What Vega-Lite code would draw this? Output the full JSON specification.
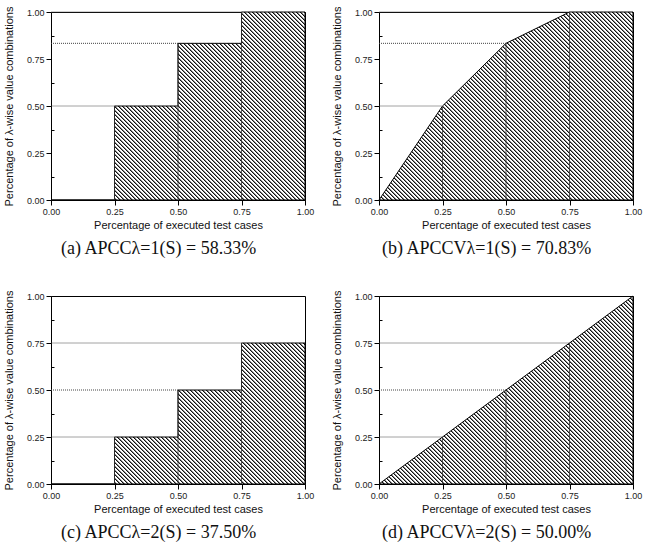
{
  "$schema": "https://vega.github.io/schema/vega-lite/v6.json",
  "background": "white",
  "padding": {"left": 2, "top": 5, "right": 0, "bottom": 0},
  "columns": 2,
  "spacing": {"row": 30, "column": 15},
  "concat": [
    {
      "width": 254, "height": 188,
      "data": {"values": [{"x": 0, "y": 0}, {"x": 0.25, "y": 0.5}, {"x": 0.5, "y": 0.8333}, {"x": 0.75, "y": 1}, {"x": 1, "y": 1}]},
      "title": {"text": "(a) APCCλ=1(S) = 58.33%"},
      "layer": [
        {"mark": {"type": "area", "interpolate": "step-after", "stroke": "black", "strokeWidth": 1},
         "encoding": {
           "x": {"field": "x", "type": "quantitative", "scale": {"domain": [0, 1]}, "axis": {"values": [0, 0.25, 0.5, 0.75, 1], "format": ".2f", "title": "Percentage of executed test cases", "titlePadding": 3}},
           "y": {"field": "y", "type": "quantitative", "scale": {"domain": [0, 1]}, "axis": {"values": [0, 0.25, 0.5, 0.75, 1], "format": ".2f", "title": "Percentage of λ-wise value combinations", "titlePadding": 12}}}},
        {"transform": [{"filter": "datum.x < 1"}], "mark": {"type": "rule", "color": "#444", "strokeDash": [1, 1], "strokeWidth": 1},
         "encoding": {"y": {"field": "y", "type": "quantitative", "axis": null}, "x": {"field": "x", "type": "quantitative"}, "x2": {"datum": 0}}},
        {"transform": [{"filter": "datum.x < 1"}], "mark": {"type": "rule", "color": "#333", "strokeWidth": 0.8},
         "encoding": {"x": {"field": "x", "type": "quantitative"}, "y": {"field": "y", "type": "quantitative", "axis": null}, "y2": {"datum": 0}}},
        {"mark": {"type": "rule", "opacity": 0},
         "encoding": {"y": {"field": "y", "type": "quantitative", "axis": {"orient": "left", "values": [0.125, 0.375, 0.625, 0.875], "labels": false, "domain": false, "tickSize": -3, "title": null}}}}
      ],
      "resolve": {"axis": {"y": "independent"}}
    },
    {
      "width": 254, "height": 188,
      "data": {"values": [{"x": 0, "y": 0}, {"x": 0.25, "y": 0.5}, {"x": 0.5, "y": 0.8333}, {"x": 0.75, "y": 1}, {"x": 1, "y": 1}]},
      "title": {"text": "(b) APCCVλ=1(S) = 70.83%"},
      "layer": [
        {"mark": {"type": "area", "interpolate": "linear", "stroke": "black", "strokeWidth": 1},
         "encoding": {
           "x": {"field": "x", "type": "quantitative", "scale": {"domain": [0, 1]}, "axis": {"values": [0, 0.25, 0.5, 0.75, 1], "format": ".2f", "title": "Percentage of executed test cases", "titlePadding": 3}},
           "y": {"field": "y", "type": "quantitative", "scale": {"domain": [0, 1]}, "axis": {"values": [0, 0.25, 0.5, 0.75, 1], "format": ".2f", "title": "Percentage of λ-wise value combinations", "titlePadding": 12}}}},
        {"transform": [{"filter": "datum.x < 1"}], "mark": {"type": "rule", "color": "#444", "strokeDash": [1, 1], "strokeWidth": 1},
         "encoding": {"y": {"field": "y", "type": "quantitative", "axis": null}, "x": {"field": "x", "type": "quantitative"}, "x2": {"datum": 0}}},
        {"transform": [{"filter": "datum.x < 1"}], "mark": {"type": "rule", "color": "#333", "strokeWidth": 0.8},
         "encoding": {"x": {"field": "x", "type": "quantitative"}, "y": {"field": "y", "type": "quantitative", "axis": null}, "y2": {"datum": 0}}},
        {"mark": {"type": "rule", "opacity": 0},
         "encoding": {"y": {"field": "y", "type": "quantitative", "axis": {"orient": "left", "values": [0.125, 0.375, 0.625, 0.875], "labels": false, "domain": false, "tickSize": -3, "title": null}}}}
      ],
      "resolve": {"axis": {"y": "independent"}}
    },
    {
      "width": 254, "height": 188,
      "data": {"values": [{"x": 0, "y": 0}, {"x": 0.25, "y": 0.25}, {"x": 0.5, "y": 0.5}, {"x": 0.75, "y": 0.75}, {"x": 1, "y": 0.75}]},
      "title": {"text": "(c) APCCλ=2(S) = 37.50%"},
      "layer": [
        {"mark": {"type": "area", "interpolate": "step-after", "stroke": "black", "strokeWidth": 1,
           "fill": {"gradient": "linear", "x1": 0, "y1": 1, "x2": 1.50479, "y2": 0.16466, "stops": [
{"offset":0,"color":"#fff"},{"offset":0.002,"color":"#111"},{"offset":0.003,"color":"#111"},{"offset":0.005,"color":"#fff"},
{"offset":0.008,"color":"#fff"},{"offset":0.01,"color":"#111"},{"offset":0.011,"color":"#111"},{"offset":0.013,"color":"#fff"},
{"offset":0.016,"color":"#fff"},{"offset":0.018,"color":"#111"},{"offset":0.019,"color":"#111"},{"offset":0.021,"color":"#fff"},
{"offset":0.024,"color":"#fff"},{"offset":0.026,"color":"#111"},{"offset":0.027,"color":"#111"},{"offset":0.029,"color":"#fff"},
{"offset":0.032,"color":"#fff"},{"offset":0.034,"color":"#111"},{"offset":0.035,"color":"#111"},{"offset":0.037,"color":"#fff"},
{"offset":0.04,"color":"#fff"},{"offset":0.042,"color":"#111"},{"offset":0.043,"color":"#111"},{"offset":0.045,"color":"#fff"},
{"offset":0.048,"color":"#fff"},{"offset":0.05,"color":"#111"},{"offset":0.051,"color":"#111"},{"offset":0.053,"color":"#fff"},
{"offset":0.056,"color":"#fff"},{"offset":0.058,"color":"#111"},{"offset":0.059,"color":"#111"},{"offset":0.061,"color":"#fff"},
{"offset":0.064,"color":"#fff"},{"offset":0.066,"color":"#111"},{"offset":0.067,"color":"#111"},{"offset":0.069,"color":"#fff"},
{"offset":0.072,"color":"#fff"},{"offset":0.074,"color":"#111"},{"offset":0.075,"color":"#111"},{"offset":0.077,"color":"#fff"},
{"offset":0.08,"color":"#fff"},{"offset":0.082,"color":"#111"},{"offset":0.083,"color":"#111"},{"offset":0.085,"color":"#fff"},
{"offset":0.088,"color":"#fff"},{"offset":0.09,"color":"#111"},{"offset":0.091,"color":"#111"},{"offset":0.093,"color":"#fff"},
{"offset":0.096,"color":"#fff"},{"offset":0.098,"color":"#111"},{"offset":0.099,"color":"#111"},{"offset":0.101,"color":"#fff"},
{"offset":0.104,"color":"#fff"},{"offset":0.106,"color":"#111"},{"offset":0.107,"color":"#111"},{"offset":0.109,"color":"#fff"},
{"offset":0.112,"color":"#fff"},{"offset":0.114,"color":"#111"},{"offset":0.115,"color":"#111"},{"offset":0.117,"color":"#fff"},
{"offset":0.12,"color":"#fff"},{"offset":0.122,"color":"#111"},{"offset":0.123,"color":"#111"},{"offset":0.125,"color":"#fff"},
{"offset":0.128,"color":"#fff"},{"offset":0.13,"color":"#111"},{"offset":0.131,"color":"#111"},{"offset":0.133,"color":"#fff"},
{"offset":0.136,"color":"#fff"},{"offset":0.138,"color":"#111"},{"offset":0.139,"color":"#111"},{"offset":0.141,"color":"#fff"},
{"offset":0.144,"color":"#fff"},{"offset":0.146,"color":"#111"},{"offset":0.147,"color":"#111"},{"offset":0.149,"color":"#fff"},
{"offset":0.152,"color":"#fff"},{"offset":0.154,"color":"#111"},{"offset":0.155,"color":"#111"},{"offset":0.157,"color":"#fff"},
{"offset":0.16,"color":"#fff"},{"offset":0.162,"color":"#111"},{"offset":0.163,"color":"#111"},{"offset":0.165,"color":"#fff"},
{"offset":0.168,"color":"#fff"},{"offset":0.17,"color":"#111"},{"offset":0.171,"color":"#111"},{"offset":0.173,"color":"#fff"},
{"offset":0.176,"color":"#fff"},{"offset":0.178,"color":"#111"},{"offset":0.179,"color":"#111"},{"offset":0.181,"color":"#fff"},
{"offset":0.184,"color":"#fff"},{"offset":0.186,"color":"#111"},{"offset":0.187,"color":"#111"},{"offset":0.189,"color":"#fff"},
{"offset":0.192,"color":"#fff"},{"offset":0.194,"color":"#111"},{"offset":0.195,"color":"#111"},{"offset":0.197,"color":"#fff"},
{"offset":0.2,"color":"#fff"},{"offset":0.202,"color":"#111"},{"offset":0.203,"color":"#111"},{"offset":0.205,"color":"#fff"},
{"offset":0.208,"color":"#fff"},{"offset":0.21,"color":"#111"},{"offset":0.211,"color":"#111"},{"offset":0.213,"color":"#fff"},
{"offset":0.216,"color":"#fff"},{"offset":0.218,"color":"#111"},{"offset":0.219,"color":"#111"},{"offset":0.221,"color":"#fff"},
{"offset":0.224,"color":"#fff"},{"offset":0.226,"color":"#111"},{"offset":0.227,"color":"#111"},{"offset":0.229,"color":"#fff"},
{"offset":0.232,"color":"#fff"},{"offset":0.234,"color":"#111"},{"offset":0.235,"color":"#111"},{"offset":0.237,"color":"#fff"},
{"offset":0.24,"color":"#fff"},{"offset":0.242,"color":"#111"},{"offset":0.243,"color":"#111"},{"offset":0.245,"color":"#fff"},
{"offset":0.248,"color":"#fff"},{"offset":0.25,"color":"#111"},{"offset":0.251,"color":"#111"},{"offset":0.253,"color":"#fff"},
{"offset":0.256,"color":"#fff"},{"offset":0.258,"color":"#111"},{"offset":0.259,"color":"#111"},{"offset":0.261,"color":"#fff"},
{"offset":0.264,"color":"#fff"},{"offset":0.266,"color":"#111"},{"offset":0.267,"color":"#111"},{"offset":0.269,"color":"#fff"},
{"offset":0.272,"color":"#fff"},{"offset":0.274,"color":"#111"},{"offset":0.275,"color":"#111"},{"offset":0.277,"color":"#fff"},
{"offset":0.28,"color":"#fff"},{"offset":0.282,"color":"#111"},{"offset":0.283,"color":"#111"},{"offset":0.285,"color":"#fff"},
{"offset":0.288,"color":"#fff"},{"offset":0.29,"color":"#111"},{"offset":0.291,"color":"#111"},{"offset":0.293,"color":"#fff"},
{"offset":0.296,"color":"#fff"},{"offset":0.298,"color":"#111"},{"offset":0.299,"color":"#111"},{"offset":0.301,"color":"#fff"},
{"offset":0.304,"color":"#fff"},{"offset":0.306,"color":"#111"},{"offset":0.307,"color":"#111"},{"offset":0.309,"color":"#fff"},
{"offset":0.312,"color":"#fff"},{"offset":0.314,"color":"#111"},{"offset":0.315,"color":"#111"},{"offset":0.317,"color":"#fff"},
{"offset":0.32,"color":"#fff"},{"offset":0.322,"color":"#111"},{"offset":0.323,"color":"#111"},{"offset":0.325,"color":"#fff"},
{"offset":0.328,"color":"#fff"},{"offset":0.33,"color":"#111"},{"offset":0.331,"color":"#111"},{"offset":0.333,"color":"#fff"},
{"offset":0.336,"color":"#fff"},{"offset":0.338,"color":"#111"},{"offset":0.339,"color":"#111"},{"offset":0.341,"color":"#fff"},
{"offset":0.344,"color":"#fff"},{"offset":0.346,"color":"#111"},{"offset":0.347,"color":"#111"},{"offset":0.349,"color":"#fff"},
{"offset":0.352,"color":"#fff"},{"offset":0.354,"color":"#111"},{"offset":0.355,"color":"#111"},{"offset":0.357,"color":"#fff"},
{"offset":0.36,"color":"#fff"},{"offset":0.362,"color":"#111"},{"offset":0.363,"color":"#111"},{"offset":0.365,"color":"#fff"},
{"offset":0.368,"color":"#fff"},{"offset":0.37,"color":"#111"},{"offset":0.371,"color":"#111"},{"offset":0.373,"color":"#fff"},
{"offset":0.376,"color":"#fff"},{"offset":0.378,"color":"#111"},{"offset":0.379,"color":"#111"},{"offset":0.381,"color":"#fff"},
{"offset":0.384,"color":"#fff"},{"offset":0.386,"color":"#111"},{"offset":0.387,"color":"#111"},{"offset":0.389,"color":"#fff"},
{"offset":0.392,"color":"#fff"},{"offset":0.394,"color":"#111"},{"offset":0.395,"color":"#111"},{"offset":0.397,"color":"#fff"},
{"offset":0.4,"color":"#fff"},{"offset":0.402,"color":"#111"},{"offset":0.403,"color":"#111"},{"offset":0.405,"color":"#fff"},
{"offset":0.408,"color":"#fff"},{"offset":0.41,"color":"#111"},{"offset":0.411,"color":"#111"},{"offset":0.413,"color":"#fff"},
{"offset":0.416,"color":"#fff"},{"offset":0.418,"color":"#111"},{"offset":0.419,"color":"#111"},{"offset":0.421,"color":"#fff"},
{"offset":0.424,"color":"#fff"},{"offset":0.426,"color":"#111"},{"offset":0.427,"color":"#111"},{"offset":0.429,"color":"#fff"},
{"offset":0.432,"color":"#fff"},{"offset":0.434,"color":"#111"},{"offset":0.435,"color":"#111"},{"offset":0.437,"color":"#fff"},
{"offset":0.44,"color":"#fff"},{"offset":0.442,"color":"#111"},{"offset":0.443,"color":"#111"},{"offset":0.445,"color":"#fff"},
{"offset":0.448,"color":"#fff"},{"offset":0.45,"color":"#111"},{"offset":0.451,"color":"#111"},{"offset":0.453,"color":"#fff"},
{"offset":0.456,"color":"#fff"},{"offset":0.458,"color":"#111"},{"offset":0.459,"color":"#111"},{"offset":0.461,"color":"#fff"},
{"offset":0.464,"color":"#fff"},{"offset":0.466,"color":"#111"},{"offset":0.467,"color":"#111"},{"offset":0.469,"color":"#fff"},
{"offset":0.472,"color":"#fff"},{"offset":0.474,"color":"#111"},{"offset":0.475,"color":"#111"},{"offset":0.477,"color":"#fff"},
{"offset":0.48,"color":"#fff"},{"offset":0.482,"color":"#111"},{"offset":0.483,"color":"#111"},{"offset":0.485,"color":"#fff"},
{"offset":0.488,"color":"#fff"},{"offset":0.49,"color":"#111"},{"offset":0.491,"color":"#111"},{"offset":0.493,"color":"#fff"},
{"offset":0.496,"color":"#fff"},{"offset":0.498,"color":"#111"},{"offset":0.499,"color":"#111"},{"offset":0.501,"color":"#fff"},
{"offset":0.504,"color":"#fff"},{"offset":0.506,"color":"#111"},{"offset":0.507,"color":"#111"},{"offset":0.509,"color":"#fff"},
{"offset":0.512,"color":"#fff"},{"offset":0.514,"color":"#111"},{"offset":0.515,"color":"#111"},{"offset":0.517,"color":"#fff"},
{"offset":0.52,"color":"#fff"},{"offset":0.522,"color":"#111"},{"offset":0.523,"color":"#111"},{"offset":0.525,"color":"#fff"},
{"offset":0.528,"color":"#fff"},{"offset":0.53,"color":"#111"},{"offset":0.531,"color":"#111"},{"offset":0.533,"color":"#fff"},
{"offset":0.536,"color":"#fff"},{"offset":0.538,"color":"#111"},{"offset":0.539,"color":"#111"},{"offset":0.541,"color":"#fff"},
{"offset":0.544,"color":"#fff"},{"offset":0.546,"color":"#111"},{"offset":0.547,"color":"#111"},{"offset":0.549,"color":"#fff"},
{"offset":0.552,"color":"#fff"},{"offset":0.554,"color":"#111"},{"offset":0.555,"color":"#111"},{"offset":0.557,"color":"#fff"},
{"offset":0.56,"color":"#fff"},{"offset":0.562,"color":"#111"},{"offset":0.563,"color":"#111"},{"offset":0.565,"color":"#fff"},
{"offset":0.568,"color":"#fff"},{"offset":0.57,"color":"#111"},{"offset":0.571,"color":"#111"},{"offset":0.573,"color":"#fff"},
{"offset":0.576,"color":"#fff"},{"offset":0.578,"color":"#111"},{"offset":0.579,"color":"#111"},{"offset":0.581,"color":"#fff"},
{"offset":0.584,"color":"#fff"},{"offset":0.586,"color":"#111"},{"offset":0.587,"color":"#111"},{"offset":0.589,"color":"#fff"},
{"offset":0.592,"color":"#fff"},{"offset":0.594,"color":"#111"},{"offset":0.595,"color":"#111"},{"offset":0.597,"color":"#fff"},
{"offset":0.6,"color":"#fff"},{"offset":0.602,"color":"#111"},{"offset":0.603,"color":"#111"},{"offset":0.605,"color":"#fff"},
{"offset":0.608,"color":"#fff"},{"offset":0.61,"color":"#111"},{"offset":0.611,"color":"#111"},{"offset":0.613,"color":"#fff"},
{"offset":0.616,"color":"#fff"},{"offset":0.618,"color":"#111"},{"offset":0.619,"color":"#111"},{"offset":0.621,"color":"#fff"},
{"offset":0.624,"color":"#fff"},{"offset":0.626,"color":"#111"},{"offset":0.627,"color":"#111"},{"offset":0.629,"color":"#fff"},
{"offset":0.632,"color":"#fff"},{"offset":0.634,"color":"#111"},{"offset":0.635,"color":"#111"},{"offset":0.637,"color":"#fff"},
{"offset":0.64,"color":"#fff"},{"offset":0.642,"color":"#111"},{"offset":0.643,"color":"#111"},{"offset":0.645,"color":"#fff"},
{"offset":0.648,"color":"#fff"},{"offset":0.65,"color":"#111"},{"offset":0.651,"color":"#111"},{"offset":0.653,"color":"#fff"},
{"offset":0.656,"color":"#fff"},{"offset":0.658,"color":"#111"},{"offset":0.659,"color":"#111"},{"offset":0.661,"color":"#fff"},
{"offset":0.664,"color":"#fff"},{"offset":0.666,"color":"#111"},{"offset":0.667,"color":"#111"},{"offset":0.669,"color":"#fff"},
{"offset":0.672,"color":"#fff"},{"offset":0.674,"color":"#111"},{"offset":0.675,"color":"#111"},{"offset":0.677,"color":"#fff"},
{"offset":0.68,"color":"#fff"},{"offset":0.682,"color":"#111"},{"offset":0.683,"color":"#111"},{"offset":0.685,"color":"#fff"},
{"offset":0.688,"color":"#fff"},{"offset":0.69,"color":"#111"},{"offset":0.691,"color":"#111"},{"offset":0.693,"color":"#fff"},
{"offset":0.696,"color":"#fff"},{"offset":0.698,"color":"#111"},{"offset":0.699,"color":"#111"},{"offset":0.701,"color":"#fff"},
{"offset":0.704,"color":"#fff"},{"offset":0.706,"color":"#111"},{"offset":0.707,"color":"#111"},{"offset":0.709,"color":"#fff"},
{"offset":0.712,"color":"#fff"},{"offset":0.714,"color":"#111"},{"offset":0.715,"color":"#111"},{"offset":0.717,"color":"#fff"},
{"offset":0.72,"color":"#fff"},{"offset":0.722,"color":"#111"},{"offset":0.723,"color":"#111"},{"offset":0.725,"color":"#fff"},
{"offset":0.728,"color":"#fff"},{"offset":0.73,"color":"#111"},{"offset":0.731,"color":"#111"},{"offset":0.733,"color":"#fff"},
{"offset":0.736,"color":"#fff"},{"offset":0.738,"color":"#111"},{"offset":0.739,"color":"#111"},{"offset":0.741,"color":"#fff"},
{"offset":0.744,"color":"#fff"},{"offset":0.746,"color":"#111"},{"offset":0.747,"color":"#111"},{"offset":0.749,"color":"#fff"},
{"offset":0.752,"color":"#fff"},{"offset":0.754,"color":"#111"},{"offset":0.755,"color":"#111"},{"offset":0.757,"color":"#fff"},
{"offset":0.76,"color":"#fff"},{"offset":0.762,"color":"#111"},{"offset":0.763,"color":"#111"},{"offset":0.765,"color":"#fff"},
{"offset":0.768,"color":"#fff"},{"offset":0.77,"color":"#111"},{"offset":0.771,"color":"#111"},{"offset":0.773,"color":"#fff"},
{"offset":0.776,"color":"#fff"},{"offset":0.778,"color":"#111"},{"offset":0.779,"color":"#111"},{"offset":0.781,"color":"#fff"},
{"offset":0.784,"color":"#fff"},{"offset":0.786,"color":"#111"},{"offset":0.787,"color":"#111"},{"offset":0.789,"color":"#fff"},
{"offset":0.792,"color":"#fff"},{"offset":0.794,"color":"#111"},{"offset":0.795,"color":"#111"},{"offset":0.797,"color":"#fff"},
{"offset":1,"color":"#fff"}]}},
         "encoding": {
           "x": {"field": "x", "type": "quantitative", "scale": {"domain": [0, 1]}, "axis": {"values": [0, 0.25, 0.5, 0.75, 1], "format": ".2f", "title": "Percentage of executed test cases", "titlePadding": 3}},
           "y": {"field": "y", "type": "quantitative", "scale": {"domain": [0, 1]}, "axis": {"values": [0, 0.25, 0.5, 0.75, 1], "format": ".2f", "title": "Percentage of λ-wise value combinations", "titlePadding": 12}}}},
        {"transform": [{"filter": "datum.x < 1"}], "mark": {"type": "rule", "color": "#444", "strokeDash": [1, 1], "strokeWidth": 1},
         "encoding": {"y": {"field": "y", "type": "quantitative", "axis": null}, "x": {"field": "x", "type": "quantitative"}, "x2": {"datum": 0}}},
        {"transform": [{"filter": "datum.x < 1"}], "mark": {"type": "rule", "color": "#333", "strokeWidth": 0.8},
         "encoding": {"x": {"field": "x", "type": "quantitative"}, "y": {"field": "y", "type": "quantitative", "axis": null}, "y2": {"datum": 0}}},
        {"mark": {"type": "rule", "opacity": 0},
         "encoding": {"y": {"field": "y", "type": "quantitative", "axis": {"orient": "left", "values": [0.125, 0.375, 0.625, 0.875], "labels": false, "domain": false, "tickSize": -3, "title": null}}}}
      ],
      "resolve": {"axis": {"y": "independent"}}
    },
    {
      "width": 254, "height": 188,
      "data": {"values": [{"x": 0, "y": 0}, {"x": 0.25, "y": 0.25}, {"x": 0.5, "y": 0.5}, {"x": 0.75, "y": 0.75}, {"x": 1, "y": 1}]},
      "title": {"text": "(d) APCCVλ=2(S) = 50.00%"},
      "layer": [
        {"mark": {"type": "area", "interpolate": "linear", "stroke": "black", "strokeWidth": 1},
         "encoding": {
           "x": {"field": "x", "type": "quantitative", "scale": {"domain": [0, 1]}, "axis": {"values": [0, 0.25, 0.5, 0.75, 1], "format": ".2f", "title": "Percentage of executed test cases", "titlePadding": 3}},
           "y": {"field": "y", "type": "quantitative", "scale": {"domain": [0, 1]}, "axis": {"values": [0, 0.25, 0.5, 0.75, 1], "format": ".2f", "title": "Percentage of λ-wise value combinations", "titlePadding": 12}}}},
        {"transform": [{"filter": "datum.x < 1"}], "mark": {"type": "rule", "color": "#444", "strokeDash": [1, 1], "strokeWidth": 1},
         "encoding": {"y": {"field": "y", "type": "quantitative", "axis": null}, "x": {"field": "x", "type": "quantitative"}, "x2": {"datum": 0}}},
        {"transform": [{"filter": "datum.x < 1"}], "mark": {"type": "rule", "color": "#333", "strokeWidth": 0.8},
         "encoding": {"x": {"field": "x", "type": "quantitative"}, "y": {"field": "y", "type": "quantitative", "axis": null}, "y2": {"datum": 0}}},
        {"mark": {"type": "rule", "opacity": 0},
         "encoding": {"y": {"field": "y", "type": "quantitative", "axis": {"orient": "left", "values": [0.125, 0.375, 0.625, 0.875], "labels": false, "domain": false, "tickSize": -3, "title": null}}}}
      ],
      "resolve": {"axis": {"y": "independent"}}
    }
  ],
  "config": {
    "font": "Liberation Sans",
    "view": {"stroke": "black", "strokeWidth": 1},
    "axis": {"labelFont": "Liberation Sans", "labelFontSize": 9, "labelColor": "#222", "labelFlush": false, "titleFont": "Liberation Sans", "titleFontSize": 11, "titleFontWeight": "normal", "titleColor": "#111", "domainColor": "black", "tickColor": "black", "tickSize": 5, "labelPadding": 2, "grid": false},
    "title": {"orient": "bottom", "anchor": "middle", "frame": "bounds", "font": "Liberation Serif", "fontSize": 18, "fontWeight": "normal", "color": "#111", "offset": 10},
    "area": {"fill": {"gradient": "linear", "x1": 0, "y1": 1, "x2": 1.27177, "y2": 0.05869, "stops": [
{"offset":0,"color":"#fff"},{"offset":0.002,"color":"#111"},{"offset":0.003,"color":"#111"},{"offset":0.005,"color":"#fff"},
{"offset":0.008,"color":"#fff"},{"offset":0.01,"color":"#111"},{"offset":0.011,"color":"#111"},{"offset":0.013,"color":"#fff"},
{"offset":0.016,"color":"#fff"},{"offset":0.018,"color":"#111"},{"offset":0.019,"color":"#111"},{"offset":0.021,"color":"#fff"},
{"offset":0.024,"color":"#fff"},{"offset":0.026,"color":"#111"},{"offset":0.027,"color":"#111"},{"offset":0.029,"color":"#fff"},
{"offset":0.032,"color":"#fff"},{"offset":0.034,"color":"#111"},{"offset":0.035,"color":"#111"},{"offset":0.037,"color":"#fff"},
{"offset":0.04,"color":"#fff"},{"offset":0.042,"color":"#111"},{"offset":0.043,"color":"#111"},{"offset":0.045,"color":"#fff"},
{"offset":0.048,"color":"#fff"},{"offset":0.05,"color":"#111"},{"offset":0.051,"color":"#111"},{"offset":0.053,"color":"#fff"},
{"offset":0.056,"color":"#fff"},{"offset":0.058,"color":"#111"},{"offset":0.059,"color":"#111"},{"offset":0.061,"color":"#fff"},
{"offset":0.064,"color":"#fff"},{"offset":0.066,"color":"#111"},{"offset":0.067,"color":"#111"},{"offset":0.069,"color":"#fff"},
{"offset":0.072,"color":"#fff"},{"offset":0.074,"color":"#111"},{"offset":0.075,"color":"#111"},{"offset":0.077,"color":"#fff"},
{"offset":0.08,"color":"#fff"},{"offset":0.082,"color":"#111"},{"offset":0.083,"color":"#111"},{"offset":0.085,"color":"#fff"},
{"offset":0.088,"color":"#fff"},{"offset":0.09,"color":"#111"},{"offset":0.091,"color":"#111"},{"offset":0.093,"color":"#fff"},
{"offset":0.096,"color":"#fff"},{"offset":0.098,"color":"#111"},{"offset":0.099,"color":"#111"},{"offset":0.101,"color":"#fff"},
{"offset":0.104,"color":"#fff"},{"offset":0.106,"color":"#111"},{"offset":0.107,"color":"#111"},{"offset":0.109,"color":"#fff"},
{"offset":0.112,"color":"#fff"},{"offset":0.114,"color":"#111"},{"offset":0.115,"color":"#111"},{"offset":0.117,"color":"#fff"},
{"offset":0.12,"color":"#fff"},{"offset":0.122,"color":"#111"},{"offset":0.123,"color":"#111"},{"offset":0.125,"color":"#fff"},
{"offset":0.128,"color":"#fff"},{"offset":0.13,"color":"#111"},{"offset":0.131,"color":"#111"},{"offset":0.133,"color":"#fff"},
{"offset":0.136,"color":"#fff"},{"offset":0.138,"color":"#111"},{"offset":0.139,"color":"#111"},{"offset":0.141,"color":"#fff"},
{"offset":0.144,"color":"#fff"},{"offset":0.146,"color":"#111"},{"offset":0.147,"color":"#111"},{"offset":0.149,"color":"#fff"},
{"offset":0.152,"color":"#fff"},{"offset":0.154,"color":"#111"},{"offset":0.155,"color":"#111"},{"offset":0.157,"color":"#fff"},
{"offset":0.16,"color":"#fff"},{"offset":0.162,"color":"#111"},{"offset":0.163,"color":"#111"},{"offset":0.165,"color":"#fff"},
{"offset":0.168,"color":"#fff"},{"offset":0.17,"color":"#111"},{"offset":0.171,"color":"#111"},{"offset":0.173,"color":"#fff"},
{"offset":0.176,"color":"#fff"},{"offset":0.178,"color":"#111"},{"offset":0.179,"color":"#111"},{"offset":0.181,"color":"#fff"},
{"offset":0.184,"color":"#fff"},{"offset":0.186,"color":"#111"},{"offset":0.187,"color":"#111"},{"offset":0.189,"color":"#fff"},
{"offset":0.192,"color":"#fff"},{"offset":0.194,"color":"#111"},{"offset":0.195,"color":"#111"},{"offset":0.197,"color":"#fff"},
{"offset":0.2,"color":"#fff"},{"offset":0.202,"color":"#111"},{"offset":0.203,"color":"#111"},{"offset":0.205,"color":"#fff"},
{"offset":0.208,"color":"#fff"},{"offset":0.21,"color":"#111"},{"offset":0.211,"color":"#111"},{"offset":0.213,"color":"#fff"},
{"offset":0.216,"color":"#fff"},{"offset":0.218,"color":"#111"},{"offset":0.219,"color":"#111"},{"offset":0.221,"color":"#fff"},
{"offset":0.224,"color":"#fff"},{"offset":0.226,"color":"#111"},{"offset":0.227,"color":"#111"},{"offset":0.229,"color":"#fff"},
{"offset":0.232,"color":"#fff"},{"offset":0.234,"color":"#111"},{"offset":0.235,"color":"#111"},{"offset":0.237,"color":"#fff"},
{"offset":0.24,"color":"#fff"},{"offset":0.242,"color":"#111"},{"offset":0.243,"color":"#111"},{"offset":0.245,"color":"#fff"},
{"offset":0.248,"color":"#fff"},{"offset":0.25,"color":"#111"},{"offset":0.251,"color":"#111"},{"offset":0.253,"color":"#fff"},
{"offset":0.256,"color":"#fff"},{"offset":0.258,"color":"#111"},{"offset":0.259,"color":"#111"},{"offset":0.261,"color":"#fff"},
{"offset":0.264,"color":"#fff"},{"offset":0.266,"color":"#111"},{"offset":0.267,"color":"#111"},{"offset":0.269,"color":"#fff"},
{"offset":0.272,"color":"#fff"},{"offset":0.274,"color":"#111"},{"offset":0.275,"color":"#111"},{"offset":0.277,"color":"#fff"},
{"offset":0.28,"color":"#fff"},{"offset":0.282,"color":"#111"},{"offset":0.283,"color":"#111"},{"offset":0.285,"color":"#fff"},
{"offset":0.288,"color":"#fff"},{"offset":0.29,"color":"#111"},{"offset":0.291,"color":"#111"},{"offset":0.293,"color":"#fff"},
{"offset":0.296,"color":"#fff"},{"offset":0.298,"color":"#111"},{"offset":0.299,"color":"#111"},{"offset":0.301,"color":"#fff"},
{"offset":0.304,"color":"#fff"},{"offset":0.306,"color":"#111"},{"offset":0.307,"color":"#111"},{"offset":0.309,"color":"#fff"},
{"offset":0.312,"color":"#fff"},{"offset":0.314,"color":"#111"},{"offset":0.315,"color":"#111"},{"offset":0.317,"color":"#fff"},
{"offset":0.32,"color":"#fff"},{"offset":0.322,"color":"#111"},{"offset":0.323,"color":"#111"},{"offset":0.325,"color":"#fff"},
{"offset":0.328,"color":"#fff"},{"offset":0.33,"color":"#111"},{"offset":0.331,"color":"#111"},{"offset":0.333,"color":"#fff"},
{"offset":0.336,"color":"#fff"},{"offset":0.338,"color":"#111"},{"offset":0.339,"color":"#111"},{"offset":0.341,"color":"#fff"},
{"offset":0.344,"color":"#fff"},{"offset":0.346,"color":"#111"},{"offset":0.347,"color":"#111"},{"offset":0.349,"color":"#fff"},
{"offset":0.352,"color":"#fff"},{"offset":0.354,"color":"#111"},{"offset":0.355,"color":"#111"},{"offset":0.357,"color":"#fff"},
{"offset":0.36,"color":"#fff"},{"offset":0.362,"color":"#111"},{"offset":0.363,"color":"#111"},{"offset":0.365,"color":"#fff"},
{"offset":0.368,"color":"#fff"},{"offset":0.37,"color":"#111"},{"offset":0.371,"color":"#111"},{"offset":0.373,"color":"#fff"},
{"offset":0.376,"color":"#fff"},{"offset":0.378,"color":"#111"},{"offset":0.379,"color":"#111"},{"offset":0.381,"color":"#fff"},
{"offset":0.384,"color":"#fff"},{"offset":0.386,"color":"#111"},{"offset":0.387,"color":"#111"},{"offset":0.389,"color":"#fff"},
{"offset":0.392,"color":"#fff"},{"offset":0.394,"color":"#111"},{"offset":0.395,"color":"#111"},{"offset":0.397,"color":"#fff"},
{"offset":0.4,"color":"#fff"},{"offset":0.402,"color":"#111"},{"offset":0.403,"color":"#111"},{"offset":0.405,"color":"#fff"},
{"offset":0.408,"color":"#fff"},{"offset":0.41,"color":"#111"},{"offset":0.411,"color":"#111"},{"offset":0.413,"color":"#fff"},
{"offset":0.416,"color":"#fff"},{"offset":0.418,"color":"#111"},{"offset":0.419,"color":"#111"},{"offset":0.421,"color":"#fff"},
{"offset":0.424,"color":"#fff"},{"offset":0.426,"color":"#111"},{"offset":0.427,"color":"#111"},{"offset":0.429,"color":"#fff"},
{"offset":0.432,"color":"#fff"},{"offset":0.434,"color":"#111"},{"offset":0.435,"color":"#111"},{"offset":0.437,"color":"#fff"},
{"offset":0.44,"color":"#fff"},{"offset":0.442,"color":"#111"},{"offset":0.443,"color":"#111"},{"offset":0.445,"color":"#fff"},
{"offset":0.448,"color":"#fff"},{"offset":0.45,"color":"#111"},{"offset":0.451,"color":"#111"},{"offset":0.453,"color":"#fff"},
{"offset":0.456,"color":"#fff"},{"offset":0.458,"color":"#111"},{"offset":0.459,"color":"#111"},{"offset":0.461,"color":"#fff"},
{"offset":0.464,"color":"#fff"},{"offset":0.466,"color":"#111"},{"offset":0.467,"color":"#111"},{"offset":0.469,"color":"#fff"},
{"offset":0.472,"color":"#fff"},{"offset":0.474,"color":"#111"},{"offset":0.475,"color":"#111"},{"offset":0.477,"color":"#fff"},
{"offset":0.48,"color":"#fff"},{"offset":0.482,"color":"#111"},{"offset":0.483,"color":"#111"},{"offset":0.485,"color":"#fff"},
{"offset":0.488,"color":"#fff"},{"offset":0.49,"color":"#111"},{"offset":0.491,"color":"#111"},{"offset":0.493,"color":"#fff"},
{"offset":0.496,"color":"#fff"},{"offset":0.498,"color":"#111"},{"offset":0.499,"color":"#111"},{"offset":0.501,"color":"#fff"},
{"offset":0.504,"color":"#fff"},{"offset":0.506,"color":"#111"},{"offset":0.507,"color":"#111"},{"offset":0.509,"color":"#fff"},
{"offset":0.512,"color":"#fff"},{"offset":0.514,"color":"#111"},{"offset":0.515,"color":"#111"},{"offset":0.517,"color":"#fff"},
{"offset":0.52,"color":"#fff"},{"offset":0.522,"color":"#111"},{"offset":0.523,"color":"#111"},{"offset":0.525,"color":"#fff"},
{"offset":0.528,"color":"#fff"},{"offset":0.53,"color":"#111"},{"offset":0.531,"color":"#111"},{"offset":0.533,"color":"#fff"},
{"offset":0.536,"color":"#fff"},{"offset":0.538,"color":"#111"},{"offset":0.539,"color":"#111"},{"offset":0.541,"color":"#fff"},
{"offset":0.544,"color":"#fff"},{"offset":0.546,"color":"#111"},{"offset":0.547,"color":"#111"},{"offset":0.549,"color":"#fff"},
{"offset":0.552,"color":"#fff"},{"offset":0.554,"color":"#111"},{"offset":0.555,"color":"#111"},{"offset":0.557,"color":"#fff"},
{"offset":0.56,"color":"#fff"},{"offset":0.562,"color":"#111"},{"offset":0.563,"color":"#111"},{"offset":0.565,"color":"#fff"},
{"offset":0.568,"color":"#fff"},{"offset":0.57,"color":"#111"},{"offset":0.571,"color":"#111"},{"offset":0.573,"color":"#fff"},
{"offset":0.576,"color":"#fff"},{"offset":0.578,"color":"#111"},{"offset":0.579,"color":"#111"},{"offset":0.581,"color":"#fff"},
{"offset":0.584,"color":"#fff"},{"offset":0.586,"color":"#111"},{"offset":0.587,"color":"#111"},{"offset":0.589,"color":"#fff"},
{"offset":0.592,"color":"#fff"},{"offset":0.594,"color":"#111"},{"offset":0.595,"color":"#111"},{"offset":0.597,"color":"#fff"},
{"offset":0.6,"color":"#fff"},{"offset":0.602,"color":"#111"},{"offset":0.603,"color":"#111"},{"offset":0.605,"color":"#fff"},
{"offset":0.608,"color":"#fff"},{"offset":0.61,"color":"#111"},{"offset":0.611,"color":"#111"},{"offset":0.613,"color":"#fff"},
{"offset":0.616,"color":"#fff"},{"offset":0.618,"color":"#111"},{"offset":0.619,"color":"#111"},{"offset":0.621,"color":"#fff"},
{"offset":0.624,"color":"#fff"},{"offset":0.626,"color":"#111"},{"offset":0.627,"color":"#111"},{"offset":0.629,"color":"#fff"},
{"offset":0.632,"color":"#fff"},{"offset":0.634,"color":"#111"},{"offset":0.635,"color":"#111"},{"offset":0.637,"color":"#fff"},
{"offset":0.64,"color":"#fff"},{"offset":0.642,"color":"#111"},{"offset":0.643,"color":"#111"},{"offset":0.645,"color":"#fff"},
{"offset":0.648,"color":"#fff"},{"offset":0.65,"color":"#111"},{"offset":0.651,"color":"#111"},{"offset":0.653,"color":"#fff"},
{"offset":0.656,"color":"#fff"},{"offset":0.658,"color":"#111"},{"offset":0.659,"color":"#111"},{"offset":0.661,"color":"#fff"},
{"offset":0.664,"color":"#fff"},{"offset":0.666,"color":"#111"},{"offset":0.667,"color":"#111"},{"offset":0.669,"color":"#fff"},
{"offset":0.672,"color":"#fff"},{"offset":0.674,"color":"#111"},{"offset":0.675,"color":"#111"},{"offset":0.677,"color":"#fff"},
{"offset":0.68,"color":"#fff"},{"offset":0.682,"color":"#111"},{"offset":0.683,"color":"#111"},{"offset":0.685,"color":"#fff"},
{"offset":0.688,"color":"#fff"},{"offset":0.69,"color":"#111"},{"offset":0.691,"color":"#111"},{"offset":0.693,"color":"#fff"},
{"offset":0.696,"color":"#fff"},{"offset":0.698,"color":"#111"},{"offset":0.699,"color":"#111"},{"offset":0.701,"color":"#fff"},
{"offset":0.704,"color":"#fff"},{"offset":0.706,"color":"#111"},{"offset":0.707,"color":"#111"},{"offset":0.709,"color":"#fff"},
{"offset":0.712,"color":"#fff"},{"offset":0.714,"color":"#111"},{"offset":0.715,"color":"#111"},{"offset":0.717,"color":"#fff"},
{"offset":0.72,"color":"#fff"},{"offset":0.722,"color":"#111"},{"offset":0.723,"color":"#111"},{"offset":0.725,"color":"#fff"},
{"offset":0.728,"color":"#fff"},{"offset":0.73,"color":"#111"},{"offset":0.731,"color":"#111"},{"offset":0.733,"color":"#fff"},
{"offset":0.736,"color":"#fff"},{"offset":0.738,"color":"#111"},{"offset":0.739,"color":"#111"},{"offset":0.741,"color":"#fff"},
{"offset":0.744,"color":"#fff"},{"offset":0.746,"color":"#111"},{"offset":0.747,"color":"#111"},{"offset":0.749,"color":"#fff"},
{"offset":0.752,"color":"#fff"},{"offset":0.754,"color":"#111"},{"offset":0.755,"color":"#111"},{"offset":0.757,"color":"#fff"},
{"offset":0.76,"color":"#fff"},{"offset":0.762,"color":"#111"},{"offset":0.763,"color":"#111"},{"offset":0.765,"color":"#fff"},
{"offset":0.768,"color":"#fff"},{"offset":0.77,"color":"#111"},{"offset":0.771,"color":"#111"},{"offset":0.773,"color":"#fff"},
{"offset":0.776,"color":"#fff"},{"offset":0.778,"color":"#111"},{"offset":0.779,"color":"#111"},{"offset":0.781,"color":"#fff"},
{"offset":0.784,"color":"#fff"},{"offset":0.786,"color":"#111"},{"offset":0.787,"color":"#111"},{"offset":0.789,"color":"#fff"},
{"offset":0.792,"color":"#fff"},{"offset":0.794,"color":"#111"},{"offset":0.795,"color":"#111"},{"offset":0.797,"color":"#fff"},
{"offset":0.8,"color":"#fff"},{"offset":0.802,"color":"#111"},{"offset":0.803,"color":"#111"},{"offset":0.805,"color":"#fff"},
{"offset":0.808,"color":"#fff"},{"offset":0.81,"color":"#111"},{"offset":0.811,"color":"#111"},{"offset":0.813,"color":"#fff"},
{"offset":0.816,"color":"#fff"},{"offset":0.818,"color":"#111"},{"offset":0.819,"color":"#111"},{"offset":0.821,"color":"#fff"},
{"offset":0.824,"color":"#fff"},{"offset":0.826,"color":"#111"},{"offset":0.827,"color":"#111"},{"offset":0.829,"color":"#fff"},
{"offset":0.832,"color":"#fff"},{"offset":0.834,"color":"#111"},{"offset":0.835,"color":"#111"},{"offset":0.837,"color":"#fff"},
{"offset":0.84,"color":"#fff"},{"offset":0.842,"color":"#111"},{"offset":0.843,"color":"#111"},{"offset":0.845,"color":"#fff"},
{"offset":0.848,"color":"#fff"},{"offset":0.85,"color":"#111"},{"offset":0.851,"color":"#111"},{"offset":0.853,"color":"#fff"},
{"offset":0.856,"color":"#fff"},{"offset":0.858,"color":"#111"},{"offset":0.859,"color":"#111"},{"offset":0.861,"color":"#fff"},
{"offset":0.864,"color":"#fff"},{"offset":0.866,"color":"#111"},{"offset":0.867,"color":"#111"},{"offset":0.869,"color":"#fff"},
{"offset":0.872,"color":"#fff"},{"offset":0.874,"color":"#111"},{"offset":0.875,"color":"#111"},{"offset":0.877,"color":"#fff"},
{"offset":0.88,"color":"#fff"},{"offset":0.882,"color":"#111"},{"offset":0.883,"color":"#111"},{"offset":0.885,"color":"#fff"},
{"offset":0.888,"color":"#fff"},{"offset":0.89,"color":"#111"},{"offset":0.891,"color":"#111"},{"offset":0.893,"color":"#fff"},
{"offset":1,"color":"#fff"}]}}
  }
}
